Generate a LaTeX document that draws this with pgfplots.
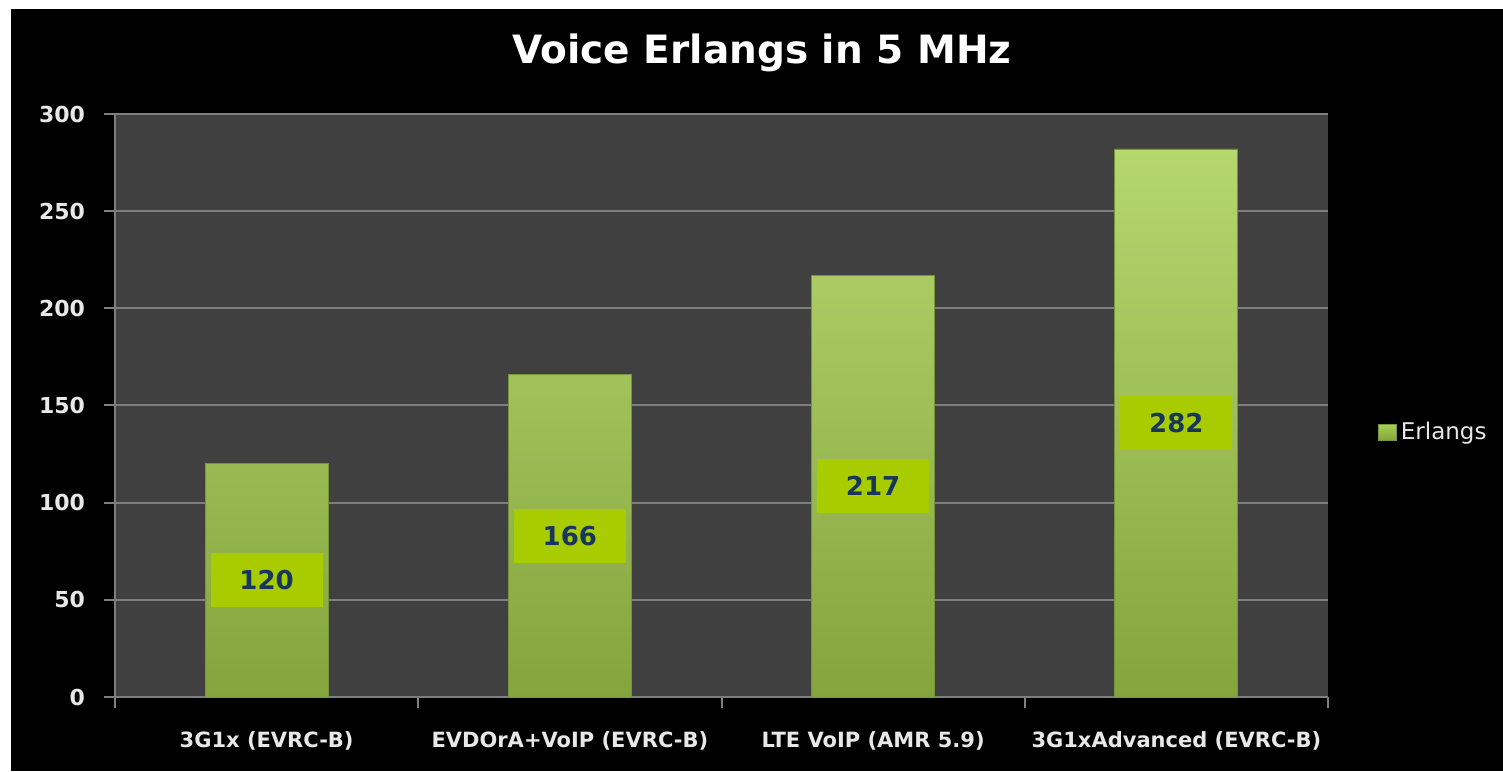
\documentclass[border=0pt]{standalone}
\usepackage{fontspec}
\setmainfont{DejaVu Sans}
\usepackage{pgfplots}
\pgfplotsset{compat=1.18}
\definecolor{plotbg}{HTML}{404040}
\definecolor{gridgray}{HTML}{7F7F7F}
\definecolor{bartop}{HTML}{A8D055}
\definecolor{barbot}{HTML}{84A53D}
\definecolor{baredge}{HTML}{77953A}
\definecolor{lblbox}{HTML}{A8CC00}
\definecolor{lbltext}{HTML}{17365D}
\definecolor{ticktext}{HTML}{E8E8E8}

\begin{document}
\begin{tikzpicture}
\useasboundingbox (0,0) rectangle (751.5pt,385.5pt);
\fill[white] (0,0) rectangle (751.5pt,385.5pt);
\fill[black] (5.5pt,0) rectangle (751.5pt,381pt);
\node[text=white, font=\bfseries\fontsize{19.5}{22}\selectfont] at (381pt,359pt) {Voice Erlangs in 5 MHz};
\begin{axis}[
    at={(57.5pt,37pt)}, anchor=south west,
    scale only axis,
    width=606.5pt, height=291.5pt,
    xmin=-0.5, xmax=3.5,
    ymin=0, ymax=300,
    ytick={0,50,...,300},
    xtick={0,1,2,3},
    xticklabels={3G1x (EVRC-B), EVDOrA+VoIP (EVRC-B), LTE VoIP (AMR 5.9), 3G1xAdvanced (EVRC-B)},
    minor xtick={-0.5,0.5,1.5,2.5,3.5},
    axis x line*=bottom, axis y line*=left,
    axis line style={gridgray, line width=1pt, -},
    axis background/.style={fill=plotbg},
    ymajorgrids, grid style={gridgray, line width=1pt},
    tick align=outside,
    major tick length=5.5pt, minor tick length=5.5pt,
    major x tick style={draw=none},
    minor x tick style={gridgray, line width=1pt},
    y tick style={gridgray, line width=1pt},
    ticklabel style={text=ticktext, font=\bfseries\fontsize{10.5}{12}\selectfont},
    yticklabel style={font=\bfseries\fontsize{11}{13}\selectfont, xshift=-6pt},
    xticklabel style={anchor=base, yshift=-19.5pt},
    /pgf/number format/assume math mode=true,
    legend style={at={(rel axis cs:1.036,0.4545)}, anchor=west, draw=none, fill=none,
        text=ticktext, font=\fontsize{11.5}{13}\selectfont},
    legend image code/.code={\fill[top color=bartop, bottom color=barbot] (-3pt,-4pt) rectangle (6pt,4pt);},
]
\addplot[ybar, bar width=61.5pt, draw=baredge, top color=bartop!85!white, bottom color=barbot]
    coordinates {(0,120) (1,166) (2,217) (3,282)};
\addlegendentry{Erlangs}
\addplot[draw=none, mark=none, forget plot, nodes near coords, point meta=explicit symbolic,
    every node near coord/.style={anchor=center, fill=lblbox, text=lbltext,
        minimum width=56pt, minimum height=27pt, inner sep=0pt,
        font=\bfseries\fontsize{13}{15}\selectfont}]
    coordinates {(0,60) [120] (1,83) [166] (2,108.5) [217] (3,141) [282]};
\end{axis}
\end{tikzpicture}
\end{document}
